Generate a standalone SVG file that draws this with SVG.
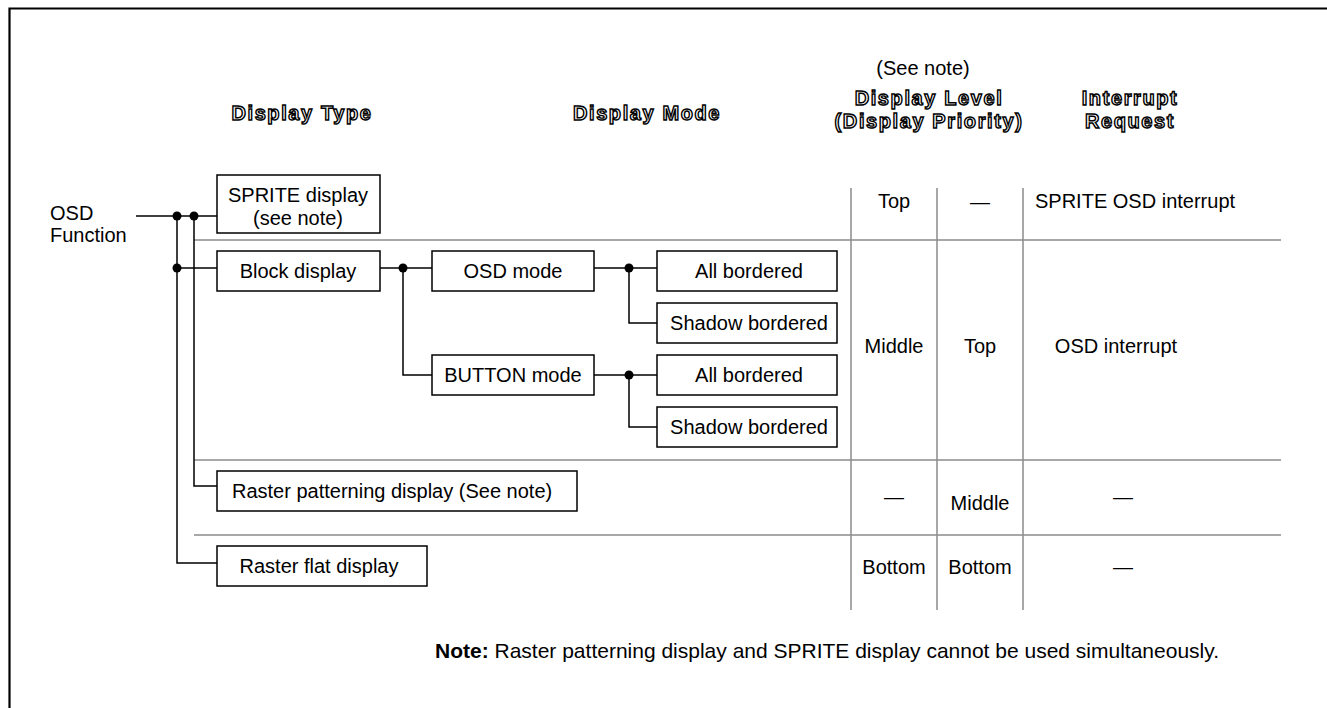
<svg xmlns="http://www.w3.org/2000/svg" width="1327" height="708" viewBox="0 0 1327 708">
<style>
  text { font-family: "Liberation Sans", Arial, sans-serif; font-size: 20px; fill: #000; }
  .hd { font-weight: bold; fill: #fff; stroke: #000; stroke-width: 1.4px; letter-spacing: 1.6px; text-anchor: middle; }
  .c { text-anchor: middle; }
  .note { font-size: 21px; }
  .box { fill: #fff; stroke: #000; stroke-width: 1.5; }
  .ln { fill: none; stroke: #000; stroke-width: 1.5; }
  .grid { fill: none; stroke: #8c8c8c; stroke-width: 1.5; }
  .dot { fill: #000; }
</style>
<rect x="0" y="0" width="1327" height="708" fill="#fff"/>
<path d="M9.5,710 V8.5 H1330" fill="none" stroke="#000" stroke-width="2.2"/>

<g id="headers">
  <text class="hd" x="302" y="120">Display Type</text>
  <text class="hd" x="647" y="120">Display Mode</text>
  <text class="c" x="923" y="75">(See note)</text>
  <text class="hd" x="929" y="105">Display Level</text>
  <text class="hd" x="929" y="128">(Display Priority)</text>
  <text class="hd" x="1130" y="105">Interrupt</text>
  <text class="hd" x="1130" y="128">Request</text>
</g>

<g id="grid">
  <path class="grid" d="M194,240 H1281 M194,460 H1281 M194,535 H1281"/>
  <path class="grid" d="M851,188 V610 M937,188 V610 M1023,188 V610"/>
</g>

<g id="connectors">
  <path class="ln" d="M136,216 H217"/>
  <path class="ln" d="M177,216 V563 H217"/>
  <path class="ln" d="M194,216 V486 H217"/>
  <path class="ln" d="M177,268 H217"/>
  <path class="ln" d="M380,268 H432"/>
  <path class="ln" d="M403,268 V375 H432"/>
  <path class="ln" d="M594,268 H657"/>
  <path class="ln" d="M629,268 V323 H657"/>
  <path class="ln" d="M594,375 H657"/>
  <path class="ln" d="M629,375 V427 H657"/>
  <circle class="dot" cx="177" cy="216" r="4.5"/>
  <circle class="dot" cx="194" cy="216" r="4.5"/>
  <circle class="dot" cx="177" cy="268" r="4.5"/>
  <circle class="dot" cx="403" cy="268" r="4.5"/>
  <circle class="dot" cx="629" cy="268" r="4.5"/>
  <circle class="dot" cx="629" cy="375" r="4.5"/>
</g>

<g id="osd-function">
  <text x="50" y="220">OSD</text>
  <text x="50" y="242">Function</text>
</g>

<g id="sprite-display">
  <rect class="box" x="217" y="175" width="163" height="58"/>
  <text class="c" x="298" y="202">SPRITE display</text>
  <text class="c" x="298" y="225">(see note)</text>
</g>
<g id="block-display">
  <rect class="box" x="217" y="251" width="163" height="40"/>
  <text class="c" x="298" y="278">Block display</text>
</g>
<g id="osd-mode">
  <rect class="box" x="432" y="251" width="162" height="40"/>
  <text class="c" x="513" y="278">OSD mode</text>
</g>
<g id="button-mode">
  <rect class="box" x="432" y="355" width="162" height="40"/>
  <text class="c" x="513" y="382">BUTTON mode</text>
</g>
<g id="osd-all-bordered">
  <rect class="box" x="657" y="251" width="180" height="40"/>
  <text class="c" x="749" y="278">All bordered</text>
</g>
<g id="osd-shadow-bordered">
  <rect class="box" x="657" y="303" width="180" height="40"/>
  <text class="c" x="749" y="330">Shadow bordered</text>
</g>
<g id="button-all-bordered">
  <rect class="box" x="657" y="355" width="180" height="40"/>
  <text class="c" x="749" y="382">All bordered</text>
</g>
<g id="button-shadow-bordered">
  <rect class="box" x="657" y="407" width="180" height="40"/>
  <text class="c" x="749" y="434">Shadow bordered</text>
</g>
<g id="raster-patterning">
  <rect class="box" x="217" y="471" width="360" height="40"/>
  <text x="232" y="498">Raster patterning display (See note)</text>
</g>
<g id="raster-flat">
  <rect class="box" x="217" y="546" width="210" height="40"/>
  <text class="c" x="319" y="573">Raster flat display</text>
</g>

<g id="table-cells">
  <text class="c" x="894" y="208">Top</text>
  <text class="c" x="980" y="209">—</text>
  <text x="1035" y="208">SPRITE OSD interrupt</text>
  <text class="c" x="894" y="353">Middle</text>
  <text class="c" x="980" y="353">Top</text>
  <text class="c" x="1116" y="353">OSD interrupt</text>
  <text class="c" x="894" y="504">—</text>
  <text class="c" x="980" y="510">Middle</text>
  <text class="c" x="1123" y="504">—</text>
  <text class="c" x="894" y="574">Bottom</text>
  <text class="c" x="980" y="574">Bottom</text>
  <text class="c" x="1123" y="574">—</text>
</g>

<g id="note">
  <text class="note" x="435" y="658"><tspan font-weight="bold">Note:</tspan> Raster patterning display and SPRITE display cannot be used simultaneously.</text>
</g>
</svg>
